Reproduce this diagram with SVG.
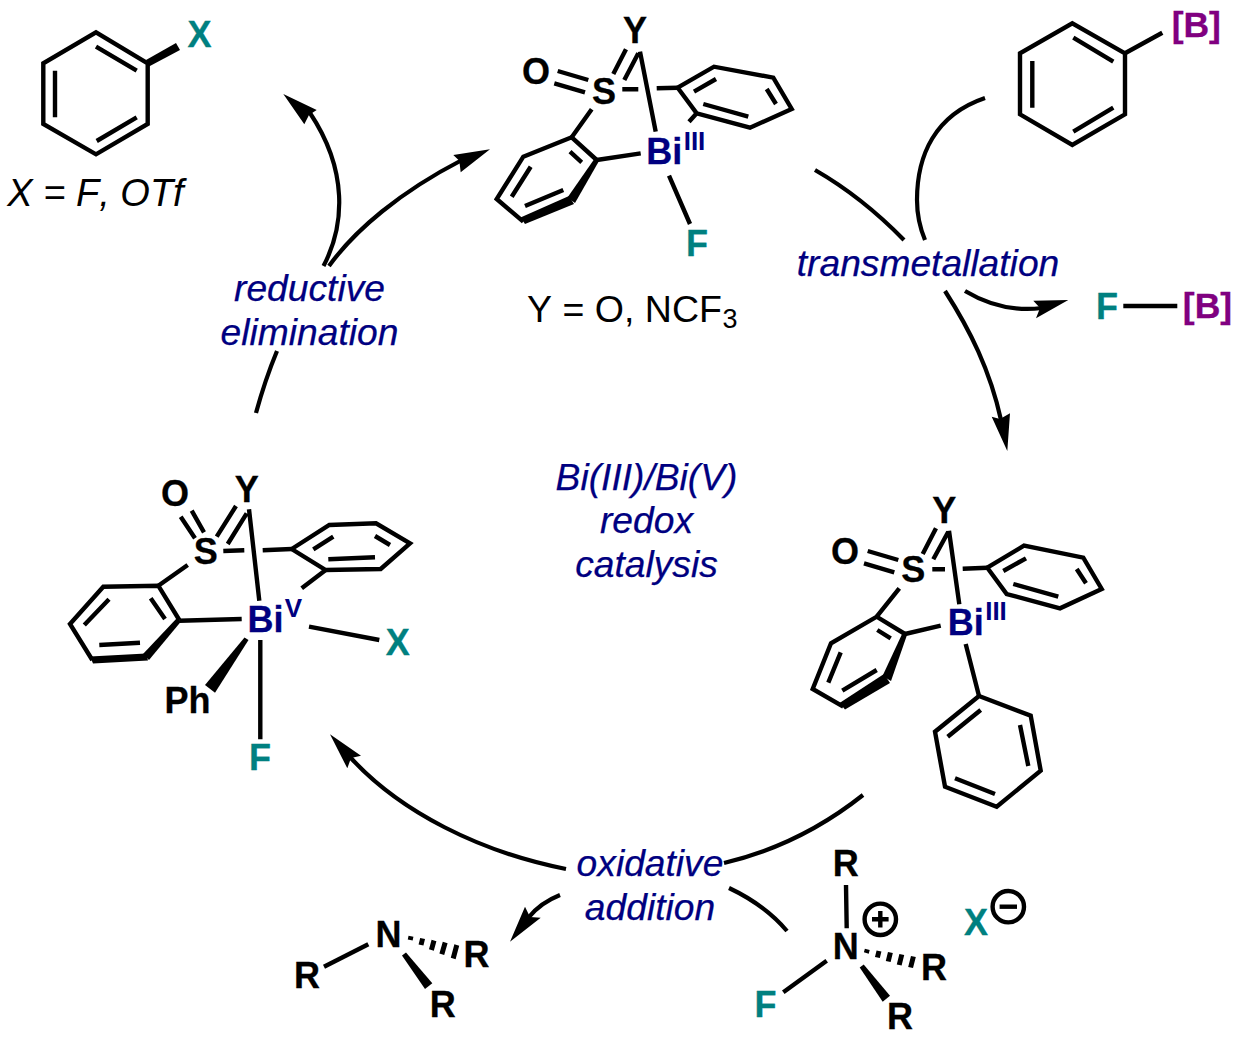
<svg xmlns="http://www.w3.org/2000/svg" width="1243" height="1041" viewBox="0 0 1243 1041">
<style>
text{font-family:"Liberation Sans",Arial,sans-serif;text-anchor:middle;font-kerning:none}
.a{font-size:36px;font-weight:bold;fill:#000;stroke:#000;stroke-width:.3}
.t{font-size:36px;font-weight:bold;fill:#008080;stroke:#008080;stroke-width:.3}
.p{font-size:35.5px;font-weight:bold;fill:#800080;stroke:#800080;stroke-width:.3}
.b{font-size:36px;font-weight:bold;fill:#000080;stroke:#000080;stroke-width:.3}
.s{font-size:26px;font-weight:bold;fill:#000080}
.l{font-size:37.2px;font-style:italic;fill:#000080;stroke:#000080;stroke-width:.25}
.n{font-size:37.5px;fill:#000}
.u{font-size:27px;fill:#000}
.i{font-size:38px;font-style:italic;fill:#000}
.k{fill:none;stroke:#000;stroke-width:4.4}
.d{fill:none;stroke:#000;stroke-width:5}
.w{fill:#000;stroke:none}
.c{fill:none;stroke:#000;stroke-width:4.2}
</style>
<rect width="1243" height="1041" fill="#fff"/>
<g id="connectors">
<path class="c" d="M323.5,266C345,225 348,170 310,113"/>
<polygon class="w" points="283.3,94 316.7,110 309,115 304.3,124.3"/>
<path class="c" d="M329,266C355,230 400,192 462,160"/>
<polygon class="w" points="490,149.3 460.7,172.3 459.3,160.7 453.3,155"/>
<path class="c" d="M277,351Q265,380 256,413"/>
<path class="c" d="M815,170Q862,197 904,240"/>
<path class="c" d="M985,98C935,115 917,155 917,200C917,215 920,228 925,240"/>
<path class="c" d="M945,291C970,330 990,370 1001,420"/>
<polygon class="w" points="1007.3,451 991.7,416.7 1000,419 1010,413.3"/>
<path class="c" d="M965,291C985,303 1010,312 1042,308"/>
<polygon class="w" points="1068.3,300 1036,318.3 1040,308 1033.3,300.7"/>
<path class="c" d="M724,863Q800,845 863,795"/>
<path class="c" d="M566,869C480,852 400,812 350,757"/>
<polygon class="w" points="330,734.3 361,755.7 351,758 347.3,768.3"/>
<path class="c" d="M729,888Q765,905 787,931"/>
<path class="c" d="M560,895C550,899 538,906 529,917"/>
<polygon class="w" points="510,941.7 525,906.7 530,917 540.7,917.7"/>
</g>
<g id="label-reductive"><text class="l" x="309.5" y="301">reductive</text><text class="l" x="309.5" y="345">elimination</text></g>
<g id="label-transmetallation"><text class="l" x="928" y="276">transmetallation</text></g>
<g id="label-redox"><text class="l" x="646.5" y="490">Bi(III)/Bi(V)</text><text class="l" x="646.5" y="533">redox</text><text class="l" x="646.5" y="577">catalysis</text></g>
<g id="label-oxidative"><text class="l" x="650" y="876">oxidative</text><text class="l" x="650" y="920">addition</text></g>
<g id="aryl-x">
<polygon class="k" points="147.7,63.3 96,32.3 43.3,63.3 43.3,124 96,154.3 147.7,124"/>
<path class="k" d="M96,46.7L136.7,70.7M55,70.7V117.3M96.7,141L136.7,117.3"/>
<polygon class="w" points="146,60 176,43 180,50 149,66.5"/>
<text class="t" x="199.5" y="46.7">X</text>
<text class="i" x="95.5" y="206">X = F, OTf</text>
</g>
<g id="catalyst-f">
<text class="a" x="635" y="43">Y</text>
<text class="a" x="536" y="84">O</text>
<text class="a" x="604" y="104">S</text>
<path class="k" d="M557.7,71L588.3,80M554.3,83.3L585,92.3M626,49.3L613.3,74M638.3,53.3L624.3,80M622.3,89.3H638.3M656.7,88.3L677.7,87.7M640,51.7L655.7,131.7"/>
<polygon class="k" points="677.7,87.7 714,66.7 773.3,77.7 791.7,109 750,127.7 696.7,113.3"/>
<path class="k" d="M694,91.7L716,79M766.7,89L776,104M703.3,104L748.3,116.7M696.7,113.3L689,121.7M591.7,109.3L571.7,137.3"/>
<path class="k" d="M596.7,160L571.7,137.3L523.3,156.7L496.7,199L523.3,221.7"/>
<path class="k" d="M570,151.7L581.7,162.3M511.7,196.7L530.7,166.7M525,206L563.3,190"/>
<polygon class="w" points="595,158 599,161 575,203 567.5,197.5"/>
<polygon class="w" points="569,196 574,204 525,224 520.5,217.5"/>
<path class="k" d="M596.7,160L640.7,153.3M669,175.7L690,224"/>
<text class="b" x="664.2" y="164">Bi</text>
<text class="s" x="694.5" y="150">III</text>
<text class="t" x="697" y="256">F</text>
<text class="n" x="624.5" y="322">Y = O, NCF</text>
<text class="u" x="730" y="328">3</text>
</g>
<g id="aryl-boron">
<polygon class="k" points="1125,53.3 1072.3,23.3 1020,53.3 1020,114.3 1072.3,145 1125,114.3"/>
<path class="k" d="M1073.3,37.7L1113.3,61.7M1032.3,61V107.7M1073.3,131.7L1113.3,107.7M1125,53.3L1162.3,32.7"/>
<text class="p" x="1196.3" y="37.3">[B]</text>
</g>
<g id="f-boron">
<text class="t" x="1107" y="319">F</text>
<path class="k" d="M1123.3,306H1177.3"/>
<text class="p" x="1207.5" y="318">[B]</text>
</g>
<g id="catalyst-ph">
<text class="a" x="944.3" y="522.7">Y</text>
<text class="a" x="845" y="564">O</text>
<text class="a" x="913.3" y="582">S</text>
<path class="k" d="M867.7,551L898.3,560M864,563.3L894.3,572.3M936,528.3L922.7,554M948.3,531.7L933.3,559.3M932.3,569.3H945M962.7,568.7L987.3,567.7M949,530.7L959.3,604.3"/>
<polygon class="k" points="987.3,567.7 1024,545.7 1083.3,557.7 1101.7,589 1060,608.3 1006.7,594"/>
<path class="k" d="M1003.3,571L1026,558.3M1076.7,569L1086,583.3M1013.3,584L1058.3,596.7M899.3,588.3L876.7,616.7"/>
<path class="k" d="M905,634L876.7,616.7L831,643.3L812.7,689L843.3,706.7"/>
<path class="k" d="M877.3,630L890.7,638.3M828.3,682.7L840.7,652.3M842.3,690.7L876.7,670"/>
<polygon class="w" points="903,632 907,635 891,681 882.5,676"/>
<polygon class="w" points="884,674 890,683 845,709.5 839.5,703"/>
<path class="k" d="M905,634L940.7,625.7M965.7,644L979,696"/>
<polygon class="k" points="979,696 1030.7,715.7 1040.7,770.7 996.7,806.7 945,786.7 935,731.7"/>
<path class="k" d="M947.7,736.7L980.7,710M1020,725L1028.3,766M955,778.3L995,794"/>
<text class="b" x="965.8" y="635">Bi</text>
<text class="s" x="996" y="620">III</text>
</g>
<g id="catalyst-v">
<text class="a" x="175" y="506">O</text>
<text class="a" x="246.7" y="501.7">Y</text>
<text class="a" x="205.7" y="564">S</text>
<path class="k" d="M180.7,516.7L195,538.3M191.7,510.7L204,532.3M236,506L216.7,536.7M246.7,513.3L227.7,544M223.3,551L244.3,550.3M262.7,550.3L291.7,549M249,509.3L259.3,600.7"/>
<polygon class="k" points="291.7,549 329.3,525 376,523.3 410,543.3 380.7,569 325.7,570"/>
<path class="k" d="M313.3,549.3L333.3,536.7M375,536L390,545M328.3,559.3L375,557.3M325.7,570L301.7,588.3M187.7,565L158.3,585.7"/>
<path class="k" d="M179.3,620L158.3,585.7L103.3,586.7L70,624L92.3,660"/>
<path class="k" d="M150.7,598.3L165,619M84.3,625L109,599.3M99.3,645L140,642.7"/>
<polygon class="w" points="177,618 181,621.5 149,660 143,654"/>
<polygon class="w" points="146,653.5 148,660.5 93,663.5 90,656.5"/>
<path class="k" d="M179.3,620.7L241.7,619M309,626.7L379.3,640M260.3,640V739.3"/>
<polygon class="w" points="244.5,637.5 248.5,640 215,692.7 205,685"/>
<text class="b" x="265.5" y="631.7">Bi</text>
<text class="s" x="293.5" y="616.7">V</text>
<text class="t" x="397.7" y="655">X</text>
<text class="a" x="187.5" y="713.3">Ph</text>
<text class="t" x="260" y="770">F</text>
</g>
<g id="amine">
<text class="a" x="388.5" y="946.7">N</text>
<text class="a" x="307" y="988.3">R</text>
<text class="a" x="476.5" y="967.3">R</text>
<text class="a" x="442.7" y="1017.3">R</text>
<path class="k" d="M324,966.7L368.3,944.3"/>
<polygon class="w" points="402,955.5 406,952.5 432.3,983.3 425,989"/>
<path class="d" d="M411,936.3L410.2,940M422.6,938.5L421,945M434,940.5L431.4,950M445.2,942.5L441.8,954.2M456.8,945L453.2,958.5"/>
</g>
<g id="fluoroammonium">
<text class="a" x="845.8" y="876">R</text>
<text class="a" x="845.8" y="959">N</text>
<text class="a" x="934" y="980">R</text>
<text class="a" x="900" y="1029.3">R</text>
<text class="t" x="765.5" y="1017.3">F</text>
<path class="k" d="M846,885L846.7,928.3M826.7,960.7L783.3,992.3"/>
<polygon class="w" points="859.7,967.5 863.7,964.5 890,995.7 882.7,1001.7"/>
<path class="d" d="M867.3,949.3L866.3,953M879,951L877.4,957.5M890.4,952.5L888.2,961.5M901.8,954.5L899.2,965M913.4,956.5L910.6,967.5"/>
<circle class="k" cx="880.3" cy="919.3" r="15.7"/>
<path class="k" d="M872,919.3H888.6M880.3,911V927.6"/>
<text class="t" x="976" y="935">X</text>
<circle class="k" cx="1008.3" cy="906.7" r="15.7"/>
<path class="k" d="M999.6,906.7H1017"/>
</g>
</svg>
